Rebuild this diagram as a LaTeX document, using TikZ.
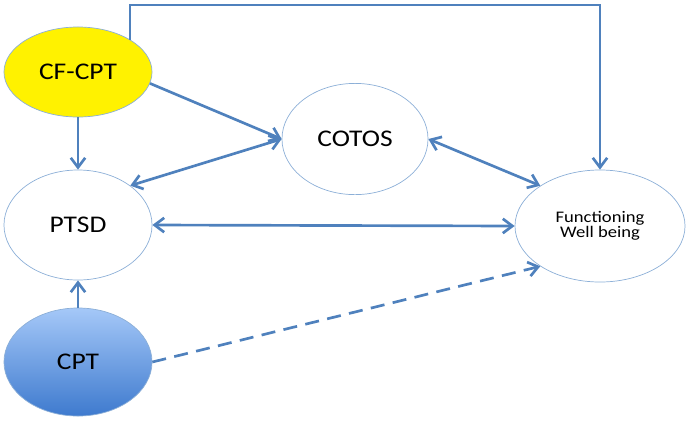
\documentclass[tikz,border=0pt]{standalone}
\usepackage{fontspec}
\setmainfont{Carlito}[FakeStretch=1.15]
\usepackage{tikz}
\usetikzlibrary{arrows.meta,positioning,shapes.geometric}

\definecolor{linkblue}{RGB}{79,129,189}
\definecolor{rimblue}{RGB}{140,175,215}
\definecolor{cptlight}{RGB}{165,200,248}
\definecolor{cptdark}{RGB}{62,122,206}

\begin{document}
\begin{tikzpicture}[x=0.025cm,y=-0.025cm]

\tikzset{myarrow/.style={-{Straight Barb[length=2.4mm,width=3.6mm,line width=1.9pt]}, line width=1.9pt, draw=linkblue},
         twoway/.style={myarrow, {Straight Barb[length=2.4mm,width=3.6mm,line width=1.9pt]}-{Straight Barb[length=2.4mm,width=3.6mm,line width=1.9pt]}},
         bubble/.style={draw=rimblue, line width=0.5pt, ellipse, inner sep=0pt, text=black,
                        font=\fontsize{17}{17}\selectfont}}

    % Frame of the picture
    \useasboundingbox (0,0) rectangle (688,422);

    % Left column
    \node[bubble, fill=yellow, minimum width=3.7cm, minimum height=2.25cm] (CFCPT) at (78,72) {CF-CPT};
    \node[bubble, minimum width=3.7cm, minimum height=2.75cm] (PTSD) at (78,225) {PTSD};
    \node[bubble, top color=cptlight, bottom color=cptdark, minimum width=3.7cm,
          minimum height=2.7cm] (CPT) at (78,362) {CPT};

    % Middle and right
    \node[bubble, minimum width=3.65cm, minimum height=2.78cm] (COTOS) at (355,139) {COTOS};
    \node[bubble, minimum width=4.25cm, minimum height=2.8cm, align=center,
          font=\fontsize{11.5}{11}\selectfont] (Func) at (600,226) {Functioning\\Well being};

    % Top line
    \coordinate (top) at (0,5);
    \draw[myarrow] (CFCPT.32) |- (top -| Func.north) -- (Func.north);

    % Arrows
    \draw[myarrow] (CFCPT.south) -- (PTSD.north);
    \draw[myarrow] (CFCPT.-9) -- (COTOS.west);
    \draw[twoway] (PTSD.37) -- (COTOS.west);
    \draw[twoway] (COTOS.east) -- (Func.146);
    \draw[twoway] (PTSD.east) -- (Func.west);
    \draw[myarrow] (CPT.north) -- (PTSD.south);
    \draw[myarrow, dash pattern=on 10pt off 6pt] (CPT.east) -- (Func.214);

\end{tikzpicture}
\end{document}
